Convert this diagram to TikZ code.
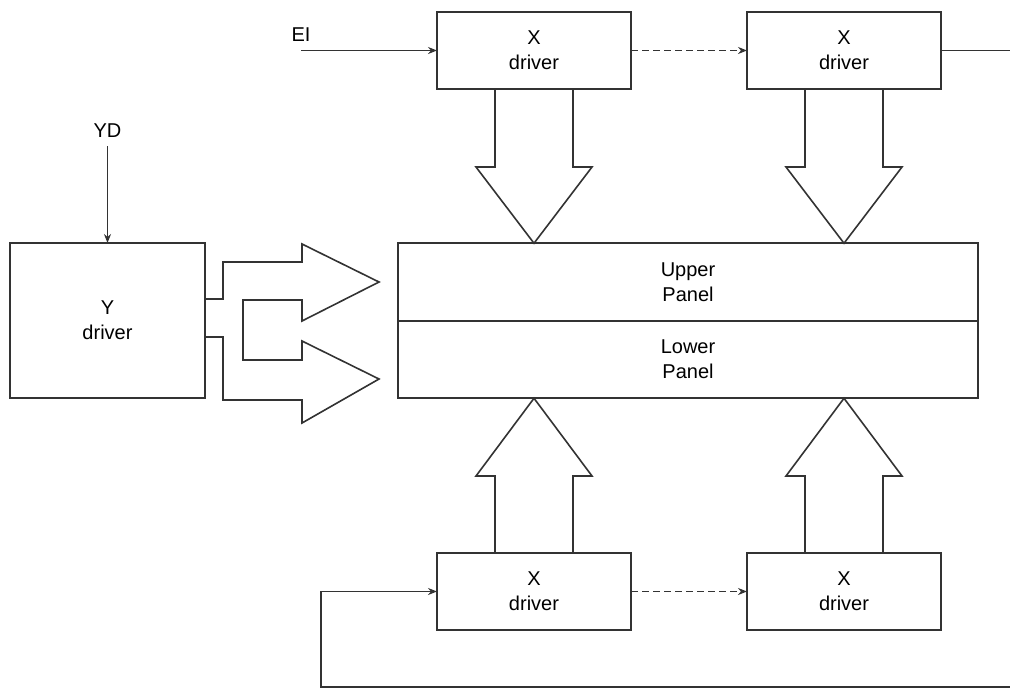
\documentclass[tikz,border=0pt]{standalone}
\usepackage{fontspec}
\setmainfont{Liberation Sans}
\usetikzlibrary{arrows.meta, positioning, calc}

\begin{document}
\begin{tikzpicture}[
    x=1pt, y=-1pt,
    driver/.style={rectangle, draw=black!80, line width=1.6pt, minimum width=194pt, minimum height=77pt, inner sep=0pt, outer sep=0pt, align=center, font=\fontsize{20}{25}\selectfont},
    panel/.style={driver, minimum width=580pt, minimum height=77.5pt},
    sig/.style={font=\fontsize{20}{24}\selectfont, inner sep=0pt},
    arrow/.style={-{Stealth[length=9pt,width=7pt]}, draw=black!80, line width=1.6pt},
    wire/.style={draw=black!80, line width=1.6pt},
    bus/.style={draw=black!80, line width=1.6pt, line join=miter},
    dashline/.style={dash pattern=on 7pt off 4pt}
]
\useasboundingbox (0,0) rectangle (1010,689);

% Upper X drivers
\node[driver] (xtop1) at (534,50.5) {X\\driver};
\node[driver, right=116pt of xtop1] (xtop2) {X\\driver};

% Display panel
\node[panel] (upper) at (688,282) {Upper\\Panel};
\node[panel, below=0pt of upper] (lower) {Lower\\Panel};

% Y driver
\node[driver, minimum width=195pt, minimum height=155pt] (ydrv) at (107.5,320.5) {Y\\driver};

% Lower X drivers
\node[driver] (xbot1) at (534,591.5) {X\\driver};
\node[driver, right=116pt of xbot1] (xbot2) {X\\driver};

% Inputs
\coordinate (eiin) at (301,50.5);
\node[sig, above=9pt of eiin] (ei) {EI};
\node[sig, inner sep=8pt] (yd) at (107.5,131) {YD};
\coordinate (xout) at (1010,50.5);
\coordinate (fbin) at (1010,687);
\coordinate (fbturn) at (321,687);

% Signal lines
\draw[arrow] (eiin) -- (xtop1.west);
\draw[arrow, dashline] (xtop1) -- (xtop2);
\draw[wire] (xtop2) -- (xout);
\draw[arrow] (yd) -- (ydrv);
\draw[arrow, dashline] (xbot1) -- (xbot2);
\draw[arrow] (fbin) -- (fbturn) |- (xbot1.west);

% Bus arrows
\foreach \n in {xtop1,xtop2}
  \draw[bus] ($(\n.south)+(-39,0)$) -- ++(0,78) -- ++(-19,0) -- (\n.south |- upper.north)
    -- ($(\n.south)+(58,78)$) -- ++(-19,0) -- ($(\n.south)+(39,0)$);
\foreach \n in {xbot1,xbot2}
  \draw[bus] ($(\n.north)+(-39,0)$) -- ++(0,-77) -- ++(-19,0) -- (\n.north |- lower.south)
    -- ($(\n.north)+(58,-77)$) -- ++(-19,0) -- ($(\n.north)+(39,0)$);
\draw[bus] ($(ydrv.east)+(0,-21.5)$) -- ++(18,0) -- ++(0,-37) -- ++(79,0) -- ++(0,-18)
  -- ++(77,38) -- ++(-77,39) -- ++(0,-21) -- ++(-59,0) -- ++(0,60) -- ++(59,0)
  -- ++(0,-19) -- ++(77,38) -- ++(-77,44) -- ++(0,-23) -- ++(-79,0) -- ++(0,-63) -- ++(-18,0);

\end{tikzpicture}
\end{document}
